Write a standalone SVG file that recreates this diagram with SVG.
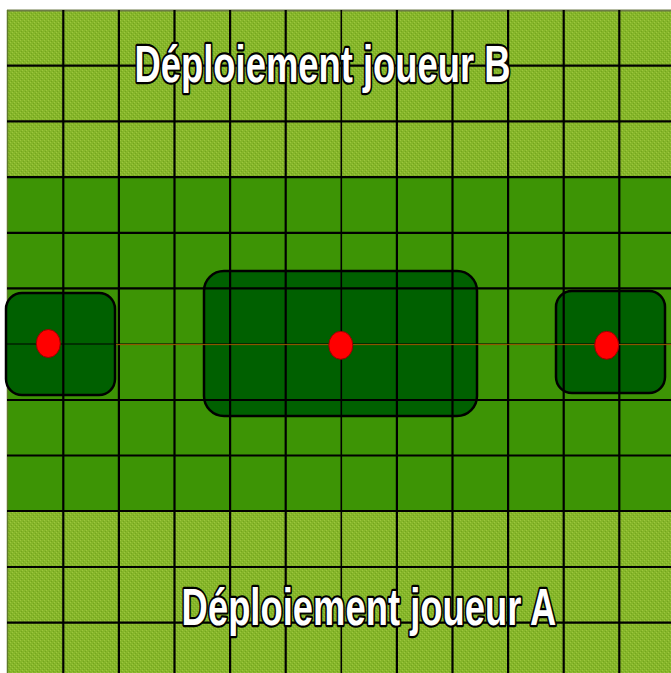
<svg xmlns="http://www.w3.org/2000/svg" width="671" height="673" viewBox="0 0 671 673">
  <defs>
    <pattern id="tex" width="4" height="4" patternUnits="userSpaceOnUse">
      <rect width="4" height="4" fill="#86B62A"/>
      <rect x="0" y="0" width="1" height="1" fill="#9CC63E"/>
      <rect x="2" y="2" width="1" height="1" fill="#9CC63E"/>
      <rect x="1" y="3" width="1" height="1" fill="#74A51E"/>
      <rect x="3" y="1" width="1" height="1" fill="#74A51E"/>
    </pattern>
  </defs>
  <style>
    .zone { fill: #006000; stroke: #000; stroke-width: 2.5; }
    .dot { fill: #FF0000; stroke: #9A0000; stroke-width: 1; }
    .grid line { stroke: #000; stroke-width: 2.2; }
    .title { font-family: "Liberation Sans", Arial, sans-serif; font-weight: bold; font-size: 52px; fill: #fff; stroke: #000; stroke-width: 4.5; paint-order: stroke; stroke-linejoin: round; }
  </style>
  <rect x="0" y="0" width="671" height="673" fill="#fff"/>
  <rect x="7" y="10" width="664" height="663" fill="url(#tex)"/>
  <rect x="7" y="177" width="664" height="334" fill="#3D9405"/>
  <line x1="7" y1="10.5" x2="671" y2="10.5" stroke="#6E7C48" stroke-width="2"/>
  <line x1="7.5" y1="10" x2="7.5" y2="673" stroke="#5E7A28" stroke-width="1.5"/>

  <g id="zone-left"><rect class="zone" x="6" y="293" width="109" height="102" rx="16"/></g>
  <g id="zone-center"><rect class="zone" x="204" y="271" width="273" height="145" rx="20"/></g>
  <g id="zone-right"><rect class="zone" x="556" y="291" width="109" height="102" rx="16"/></g>

  <g class="grid">
    <line x1="63.3" y1="10" x2="63.3" y2="673"/>
    <line x1="118.9" y1="10" x2="118.9" y2="673"/>
    <line x1="174.5" y1="10" x2="174.5" y2="673"/>
    <line x1="230.1" y1="10" x2="230.1" y2="673"/>
    <line x1="285.7" y1="10" x2="285.7" y2="673"/>
    <line x1="341.3" y1="10" x2="341.3" y2="673" style="stroke-width:1.6"/>
    <line x1="396.9" y1="10" x2="396.9" y2="673"/>
    <line x1="452.5" y1="10" x2="452.5" y2="673"/>
    <line x1="508.1" y1="10" x2="508.1" y2="673"/>
    <line x1="563.7" y1="10" x2="563.7" y2="673"/>
    <line x1="619.3" y1="10" x2="619.3" y2="673"/>
    <line x1="7" y1="65.7" x2="671" y2="65.7"/>
    <line x1="7" y1="121.4" x2="671" y2="121.4"/>
    <line x1="7" y1="177.1" x2="671" y2="177.1"/>
    <line x1="7" y1="232.8" x2="671" y2="232.8"/>
    <line x1="7" y1="288.4" x2="671" y2="288.4"/>
    <line x1="7" y1="400" x2="671" y2="400"/>
    <line x1="7" y1="455.5" x2="671" y2="455.5"/>
    <line x1="7" y1="511" x2="671" y2="511"/>
    <line x1="7" y1="567" x2="671" y2="567"/>
    <line x1="7" y1="622.7" x2="671" y2="622.7"/>
    <line x1="7" y1="344" x2="671" y2="344" style="stroke-width:1.2"/>
  </g>
  <line x1="116" y1="344.6" x2="671" y2="344.6" stroke="#9A5A00" stroke-width="1"/>

  <g id="dot-left"><ellipse class="dot" cx="48.3" cy="343.5" rx="12" ry="14"/></g>
  <g id="dot-center"><ellipse class="dot" cx="340.8" cy="345.3" rx="12" ry="14"/></g>
  <g id="dot-right"><ellipse class="dot" cx="606.7" cy="345.3" rx="12" ry="14"/></g>

  <g id="label-b" transform="translate(322.5,82) scale(0.7,1)"><text class="title" x="0" y="0" text-anchor="middle">Déploiement joueur B</text></g>
  <g id="label-a" transform="translate(369,625) scale(0.7,1)"><text class="title" x="0" y="0" text-anchor="middle">Déploiement joueur A</text></g>
</svg>
